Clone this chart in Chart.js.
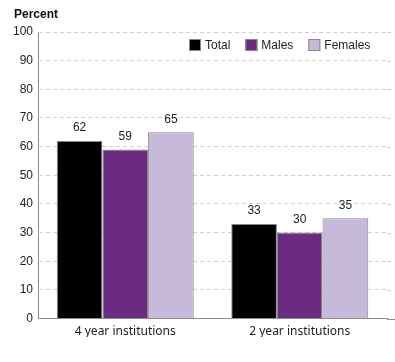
<!DOCTYPE html>
<html>
<head>
<meta charset="utf-8">
<script src="https://cdn.jsdelivr.net/npm/chart.js@4"></script>
<style>
  body { margin: 0; background: #fff; }
  canvas { display: block; }
</style>
</head>
<body>
<canvas id="chart" width="395" height="362"></canvas>
<script>
const categories = ['4 year institutions', '2 year institutions'];
const seriesNames = ['Total', 'Males', 'Females'];
const totalValues = [62, 33];
const maleValues = [59, 30];
const femaleValues = [65, 35];
const yTicks = [0, 10, 20, 30, 40, 50, 60, 70, 80, 90, 100];

const colors = ['#000000', '#6a2b80', '#c7b9d9'];
const numFont = '"Liberation Sans", Arial, sans-serif';

// value labels over the bars
const barLabels = {
  id: 'barLabels',
  afterDatasetsDraw(chart) {
    const ctx = chart.ctx;
    ctx.save();
    ctx.font = '12px ' + numFont;
    ctx.fillStyle = '#222';
    ctx.textAlign = 'center';
    ctx.textBaseline = 'middle';
    chart.data.datasets.forEach((ds, i) => {
      chart.getDatasetMeta(i).data.forEach((bar, j) => {
        ctx.fillText(ds.data[j], bar.x, bar.y - 13);
      });
    });
    ctx.restore();
  }
};

// title, legend, solid y axis and the grid running past the plot edge
const extras = {
  id: 'extras',
  afterDraw(chart) {
    const ctx = chart.ctx;
    const area = chart.chartArea;
    const y = chart.scales.y;
    ctx.save();

    ctx.strokeStyle = '#d0d0d0';
    ctx.lineWidth = 1;
    ctx.setLineDash([4, 3]);
    yTicks.slice(1).forEach(v => {
      const py = Math.round(y.getPixelForValue(v)) + 0.5;
      ctx.beginPath();
      ctx.moveTo(area.right, py);
      ctx.lineTo(394, py);
      ctx.stroke();
    });
    ctx.setLineDash([]);
    ctx.strokeStyle = '#8a8a8a';
    const py0 = Math.round(y.getPixelForValue(0)) + 0.5;
    ctx.beginPath();
    ctx.moveTo(area.right, py0);
    ctx.lineTo(395, py0);
    ctx.stroke();
    const px = Math.round(area.left) + 0.5;
    ctx.clearRect(px - 1, area.top - 1, 2, area.bottom - area.top);
    ctx.beginPath();
    ctx.moveTo(px, area.top);
    ctx.lineTo(px, area.bottom);
    ctx.stroke();

    ctx.fillStyle = '#111';
    ctx.font = 'bold 12px ' + numFont;
    ctx.textBaseline = 'middle';
    ctx.textAlign = 'left';
    ctx.fillText('Percent', 14, 15);

    let x = 189;
    const ly = 45;
    ctx.font = '12px ' + numFont;
    chart.data.datasets.forEach(ds => {
      ctx.fillStyle = ds.backgroundColor;
      ctx.fillRect(x, ly - 6, 12, 12);
      ctx.strokeStyle = '#888';
      ctx.strokeRect(x + 0.5, ly - 5.5, 11, 11);
      ctx.fillStyle = '#222';
      ctx.fillText(ds.label, x + 16, ly + 1);
      x += 16 + ctx.measureText(ds.label).width + 15;
    });
    ctx.restore();
  }
};

new Chart(document.getElementById('chart'), {
  type: 'bar',
  data: {
    labels: categories,
    datasets: [
      { label: seriesNames[0], data: totalValues, backgroundColor: colors[0] },
      { label: seriesNames[1], data: maleValues, backgroundColor: colors[1] },
      { label: seriesNames[2], data: femaleValues, backgroundColor: colors[2] }
    ].map(d => Object.assign(d, {
      borderColor: '#888',
      borderWidth: 1,
      barPercentage: 1,
      categoryPercentage: 0.785
    }))
  },
  options: {
    responsive: false,
    animation: false,
    devicePixelRatio: 1,
    layout: { padding: { top: 32, right: 8, bottom: 25, left: 0 } },
    plugins: {
      legend: { display: false },
      tooltip: { enabled: false }
    },
    scales: {
      x: {
        grid: { display: false },
        border: { color: '#8a8a8a' },
        ticks: {
          color: '#222',
          padding: -2,
          font: { family: '"Noto Sans", sans-serif', size: 12 }
        }
      },
      y: {
        min: 0,
        max: 100,
        afterFit(scale) { scale.width = 38; },
        afterBuildTicks(scale) { scale.ticks = yTicks.map(v => ({ value: v })); },
        grid: {
          color: '#d0d0d0',
          drawTicks: false
        },
        border: { color: '#8a8a8a', dash: [4, 3] },
        ticks: {
          color: '#222',
          padding: 5,
          font: { family: numFont, size: 12 }
        }
      }
    }
  },
  plugins: [barLabels, extras]
});
</script>
</body>
</html>
